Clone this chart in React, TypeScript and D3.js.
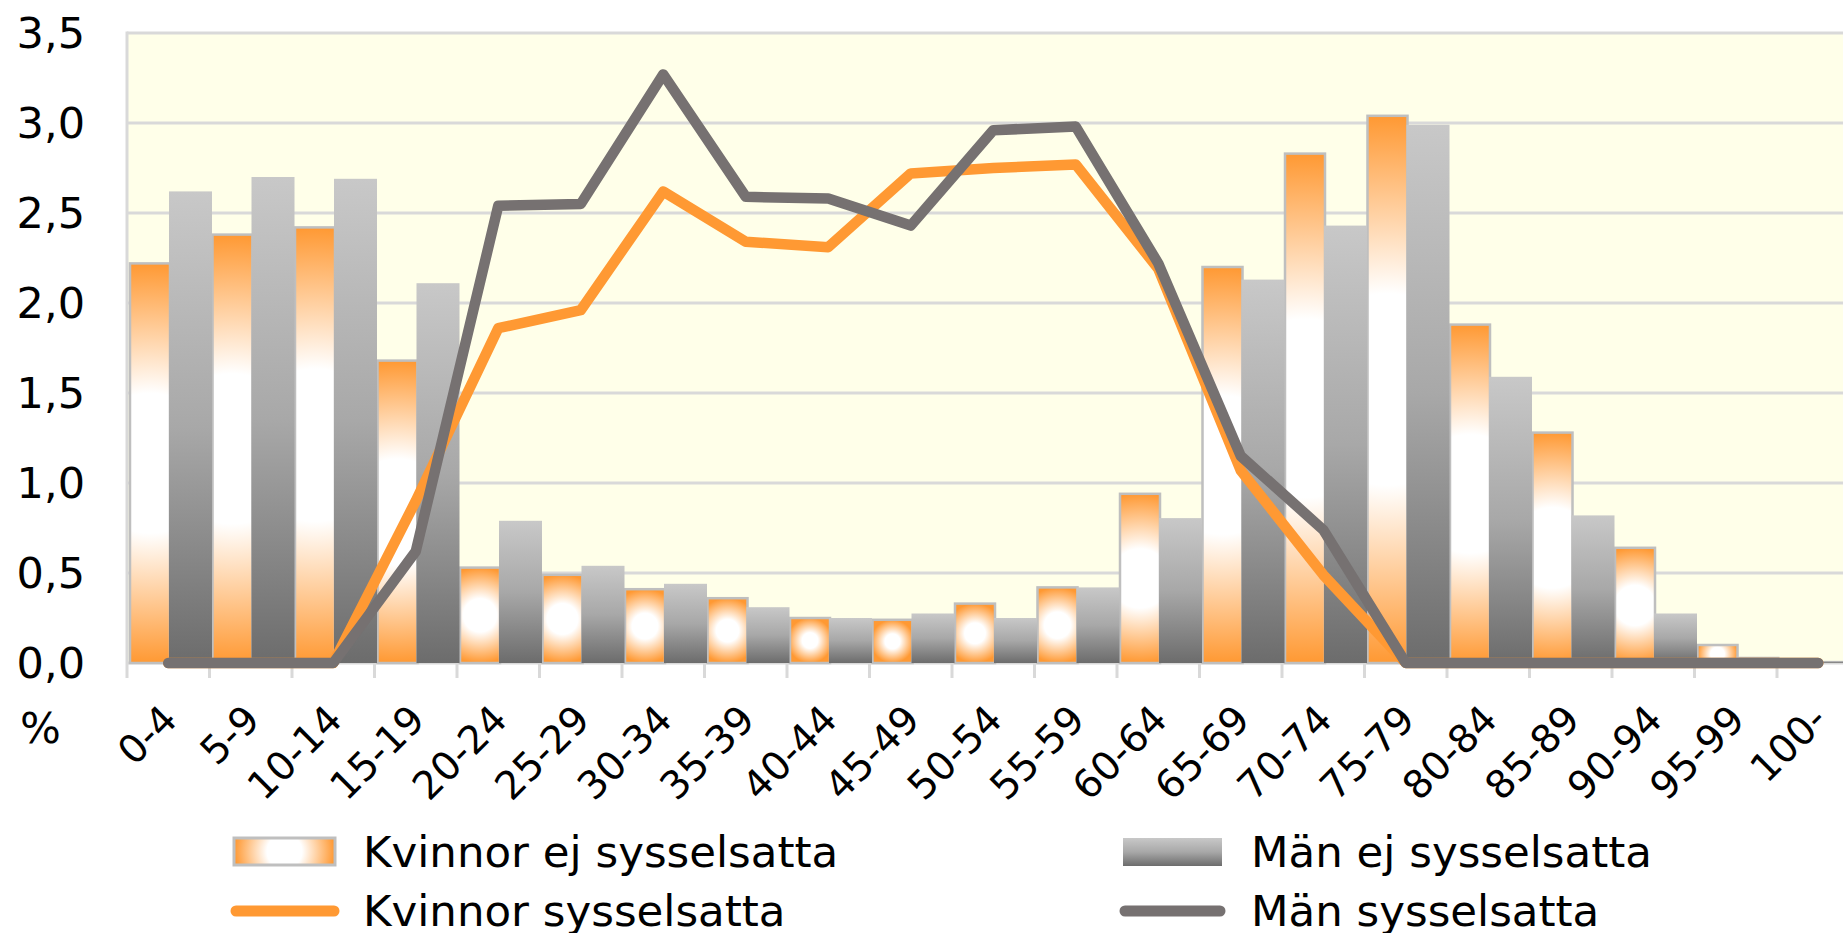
import React from "react";
import * as d3 from "d3";

const categories = ["0-4","5-9","10-14","15-19","20-24","25-29","30-34","35-39","40-44","45-49","50-54","55-59","60-64","65-69","70-74","75-79","80-84","85-89","90-94","95-99","100-"];
const kvinnorEj = [2.22,2.38,2.42,1.68,0.53,0.49,0.41,0.36,0.25,0.24,0.33,0.42,0.94,2.20,2.83,3.04,1.88,1.28,0.64,0.10,0.0];
const manEj = [2.62,2.70,2.69,2.11,0.79,0.54,0.44,0.31,0.25,0.275,0.25,0.42,0.805,2.13,2.43,2.99,1.59,0.82,0.275,0.035,0.012];
const kvinnorSyss = [0,0,0,0.90,1.86,1.96,2.62,2.34,2.31,2.72,2.75,2.77,2.19,1.07,0.49,0,0,0,0,0,0];
const manSyss = [0,0,0,0.62,2.54,2.55,3.27,2.59,2.58,2.43,2.96,2.98,2.22,1.15,0.74,0,0,0,0,0,0];
const yTicks = [0,0.5,1,1.5,2,2.5,3,3.5];
const legendLabels = ["Kvinnor ej sysselsatta","Män ej sysselsatta","Kvinnor sysselsatta","Män sysselsatta"];

const ORANGE = "#FF9933";
const GRAYLINE = "#767171";
const FONT = "'DejaVu Sans', Verdana, sans-serif";

export default function App() {
  const W = 1843, H = 933;
  const left = 127, catW = 82.5;
  const x = d3.scaleBand<string>().domain(categories).range([left, left + categories.length * catW]).padding(0);
  const y = d3.scaleLinear().domain([0, 3.5]).range([663, 33]);
  const right = left + categories.length * catW;
  const cx = (c: string) => (x(c) as number) + x.bandwidth() / 2;

  const line = d3.line<number>().x((_, i) => cx(categories[i])).y(v => y(v));

  return (
    <svg width={W} height={H} style={{ position: "absolute", left: 0, top: 0, background: "#fff" }} fontFamily={FONT}>
      <defs>
        <linearGradient id="grayGrad" x1="0" y1="0" x2="0" y2="1">
          <stop offset="0" stopColor="#C8C8C8" />
          <stop offset="0.5" stopColor="#A8A8A8" />
          <stop offset="1" stopColor="#6C6C6C" />
        </linearGradient>
        {kvinnorEj.map((v, i) => {
          const x0 = (x(categories[i]) as number) + 3;
          const w = 40;
          const y0 = y(v), h = y(0) - y(v);
          const r = Math.max(w, h) / 2;
          return (
            <radialGradient key={i} id={`og${i}`} gradientUnits="userSpaceOnUse" cx={x0 + w / 2} cy={y0 + h / 2} r={Math.max(r, 1)}>
              <stop offset="0" stopColor="#FFFFFF" />
              <stop offset="0.35" stopColor="#FFFFFF" />
              <stop offset="1" stopColor={ORANGE} />
            </radialGradient>
          );
        })}
        <radialGradient id="ogLeg" gradientUnits="userSpaceOnUse" cx={284.5} cy={851.5} r={50}>
          <stop offset="0" stopColor="#FFFFFF" />
          <stop offset="0.35" stopColor="#FFFFFF" />
          <stop offset="1" stopColor={ORANGE} />
        </radialGradient>
      </defs>

      {/* plot background */}
      <rect x={left} y={y(3.5)} width={right - left} height={y(0) - y(3.5)} fill="#FFFFE9" />
      {yTicks.map(t => (
        <line key={t} x1={left} x2={right} y1={y(t)} y2={y(t)} stroke="#D9D9D9" strokeWidth={3} />
      ))}
      {/* axes */}
      <line x1={left} x2={left} y1={y(3.5) - 1.5} y2={y(0)} stroke="#D9D9D9" strokeWidth={3} />
      {categories.map((c, i) => (
        <line key={c} x1={(x(c) as number)} x2={(x(c) as number)} y1={y(0)} y2={y(0) + 15} stroke="#D9D9D9" strokeWidth={3} />
      ))}

      {/* bars */}
      {kvinnorEj.map((v, i) => {
        const x0 = (x(categories[i]) as number) + 3;
        const h = y(0) - y(v);
        if (h <= 0) return null;
        return <rect key={i} x={x0} y={y(v)} width={40} height={h} fill={`url(#og${i})`} stroke="#BFBFBF" strokeWidth={2.5} />;
      })}
      {manEj.map((v, i) => {
        const x0 = (x(categories[i]) as number) + 42;
        const h = y(0) - y(v);
        if (h <= 0) return null;
        return <rect key={i} x={x0} y={y(v)} width={43} height={h} fill="url(#grayGrad)" />;
      })}

      {/* lines */}
      <path d={line(kvinnorSyss) || ""} fill="none" stroke={ORANGE} strokeWidth={10.5} strokeLinejoin="round" strokeLinecap="round" />
      <path d={line(manSyss) || ""} fill="none" stroke={GRAYLINE} strokeWidth={10.5} strokeLinejoin="round" strokeLinecap="round" />

      {/* y ticks */}
      {yTicks.map(t => (
        <text key={t} x={85} y={y(t)} dy="0.36em" textAnchor="end" fontSize={43} fill="#000">
          {t.toFixed(1).replace(".", ",")}
        </text>
      ))}
      <text x={20} y={743} fontSize={43} fill="#000">%</text>

      {/* x labels */}
      {categories.map(c => (
        <text key={c} transform={`translate(${cx(c) + 11},${722}) rotate(-45)`} textAnchor="end" fontSize={39} fill="#000">
          {c}
        </text>
      ))}

      {/* legend */}
      <rect x={234} y={838} width={101} height={27} fill="url(#ogLeg)" stroke="#BFBFBF" strokeWidth={3} />
      <text x={363} y={867} fontSize={43.5} fill="#000">{legendLabels[0]}</text>
      <rect x={1123} y={838} width={99} height={28} fill="url(#grayGrad)" />
      <text x={1251} y={867} fontSize={43.5} fill="#000">{legendLabels[1]}</text>
      <line x1={236} x2={334} y1={911} y2={911} stroke={ORANGE} strokeWidth={11} strokeLinecap="round" />
      <text x={363} y={926} fontSize={43.5} fill="#000">{legendLabels[2]}</text>
      <line x1={1125} x2={1220} y1={911} y2={911} stroke={GRAYLINE} strokeWidth={11} strokeLinecap="round" />
      <text x={1251} y={926} fontSize={43.5} fill="#000">{legendLabels[3]}</text>
    </svg>
  );
}
